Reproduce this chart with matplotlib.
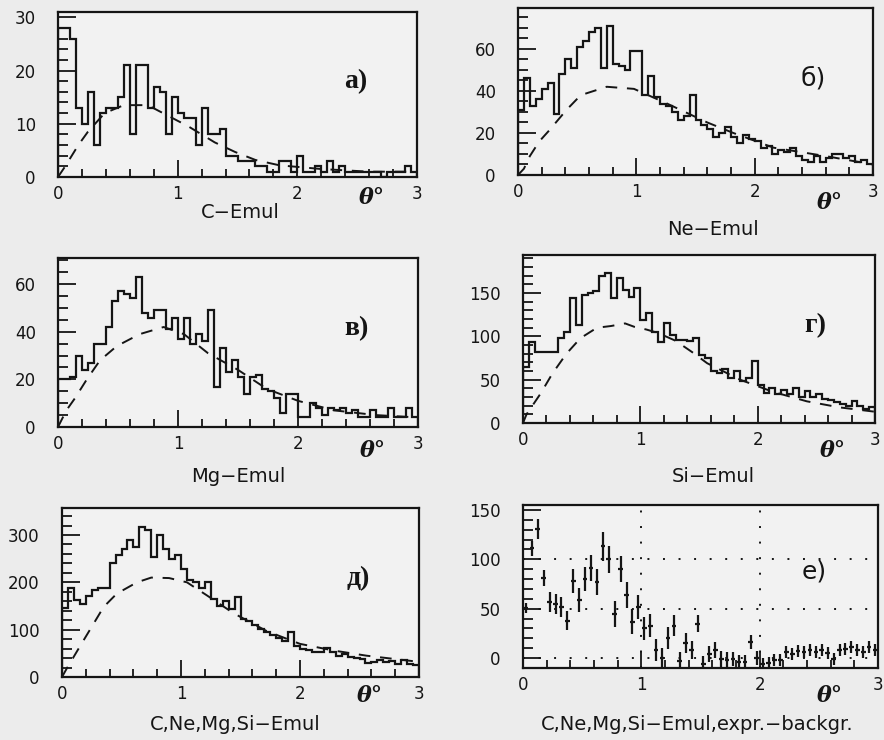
import numpy as np
import matplotlib
matplotlib.use("Agg")
import matplotlib.pyplot as plt
from matplotlib.ticker import MultipleLocator

W, H = 884, 740

# theta bins, 0.05 deg wide
theta_edges = np.linspace(0.0, 3.0, 61)

# a) C-Emul
c_counts = [28, 28, 26, 13, 10, 16, 6, 12, 13, 13,
            15, 21, 8, 21, 21, 13, 17, 16, 8, 15,
            12, 11, 11, 6, 13, 8, 8, 9, 4, 4,
            3, 3, 3, 2, 2, 1, 1, 3, 3, 1,
            4, 1, 1, 2, 1, 3, 1, 2, 1, 1,
            1, 1, 1, 1, 0, 1, 1, 1, 2, 1]
c_bg_x = [0, 0.06, 0.17, 0.25, 0.39, 0.55, 0.75, 0.92, 1.09, 1.31, 1.48, 1.65, 1.85, 2.2, 2.6, 3.0]
c_bg_y = [0, 2, 6, 8.5, 12, 13.5, 13.5, 11.5, 9.5, 6.5, 4.7, 3.2, 2.2, 1.5, 1.0, 1.0]

# б) Ne-Emul
ne_counts = [31, 46, 33, 36, 41, 44, 29, 48, 55, 51,
             61, 64, 68, 70, 51, 71, 53, 52, 50, 59,
             59, 38, 47, 37, 34, 33, 30, 26, 28, 38,
             26, 24, 22, 18, 20, 23, 18, 15, 19, 17,
             16, 13, 14, 10, 12, 11, 13, 9, 7, 6,
             9, 6, 8, 10, 10, 8, 9, 6, 7, 5]
ne_bg_x = [0, 0.05, 0.1, 0.18, 0.26, 0.41, 0.53, 0.75, 0.98, 1.26, 1.6, 1.82, 2.16, 2.6, 3.0]
ne_bg_y = [0, 3, 9, 16, 21, 31, 38, 42, 41, 34, 25, 20, 13, 9, 5]

# в) Mg-Emul
mg_counts = [20, 20, 21, 30, 24, 27, 35, 35, 42, 53,
             57, 56, 54, 63, 48, 46, 49, 49, 41, 46,
             37, 46, 35, 39, 36, 49, 17, 33, 23, 28,
             21, 14, 21, 22, 16, 15, 12, 6, 14, 14,
             4, 4, 10, 8, 5, 8, 7, 8, 6, 7,
             4, 4, 7, 4, 4, 8, 4, 4, 8, 4]
mg_bg_x = [0, 0.07, 0.14, 0.24, 0.35, 0.49, 0.68, 0.88, 1.05, 1.25, 1.5, 1.74, 2.0, 2.3, 2.65, 3.0]
mg_bg_y = [0, 7, 12, 20, 28, 34, 39, 42, 39, 31, 24, 16, 11, 7, 5, 4]

# г) Si-Emul
si_counts = [65, 93, 82, 82, 82, 82, 98, 105, 144, 113,
             148, 150, 152, 170, 173, 144, 168, 154, 145, 156,
             119, 127, 105, 93, 115, 102, 96, 96, 95, 98,
             78, 75, 60, 58, 62, 52, 60, 48, 52, 72,
             44, 35, 40, 33, 38, 33, 40, 30, 37, 30,
             34, 28, 26, 24, 22, 20, 25, 20, 16, 18]
si_bg_x = [0, 0.03, 0.15, 0.25, 0.37, 0.49, 0.63, 0.75, 0.87, 0.95, 1.05, 1.15, 1.3, 1.44,
           1.57, 1.85, 2.13, 2.42, 2.7, 3.0]
si_bg_y = [0, 10, 34, 57, 80, 98, 110, 112, 115, 111, 108, 104, 95, 82, 69, 50, 36, 25, 18, 13]

# д) C,Ne,Mg,Si-Emul
all_counts = [146, 187, 162, 155, 171, 183, 187, 187, 241, 257,
              271, 289, 275, 317, 310, 253, 301, 271, 250, 257,
              229, 204, 200, 187, 200, 165, 151, 160, 144, 169,
              123, 118, 110, 102, 96, 88, 82, 76, 95, 66,
              60, 58, 52, 52, 62, 52, 45, 48, 42, 40,
              38, 30, 32, 35, 32, 34, 28, 35, 28, 25]
all_bg_x = [0, 0.04, 0.13, 0.24, 0.35, 0.46, 0.63, 0.75, 0.9, 1.05, 1.22, 1.44, 1.72, 2.0,
            2.28, 2.56, 3.0]
all_bg_y = [0, 18, 56, 102, 148, 176, 200, 210, 209, 200, 172, 135, 97, 70, 56, 45, 32]

# е) expr. - backgr.
diff_y = [51, 111, 131, 81, 57, 55, 52, 38, 78, 59,
          80, 91, 77, 113, 100, 45, 90, 64, 37, 52,
          30, 33, 8, 0, 20, 33, -3, 15, 8, 35,
          -6, 4, 8, -1, -2, -1, -4, -4, 16, 0,
          -6, -5, -2, -2, 6, 4, 7, 6, 8, 6,
          8, 5, -1, 8, 9, 11, 8, 6, 11, 8]
diff_err = [5, 8, 10, 8, 10, 10, 10, 10, 12, 12,
            12, 13, 13, 15, 14, 13, 13, 13, 13, 12,
            12, 12, 11, 10, 11, 11, 9, 10, 9, 9,
            8, 8, 8, 8, 8, 7, 7, 7, 7, 7,
            6, 6, 6, 6, 6, 6, 6, 6, 6, 6,
            6, 6, 6, 6, 6, 6, 6, 6, 6, 6]

ink = "#151515"
paper = "#ececec"

fig = plt.figure(figsize=(W / 100, H / 100), dpi=100, facecolor=paper)


def px_rect(x0, x1, y0, y1):
    return [x0 / W, 1 - y1 / H, (x1 - x0) / W, (y1 - y0) / H]


def px_text(x, y, s, **kw):
    fig.text(x / W, 1 - y / H, s, ha="center", va="center", color=ink, **kw)


def style_axes(ax, ylim, major, minor):
    ax.set_facecolor("#f2f2f2")
    ax.set_xlim(0, 3)
    ax.set_ylim(*ylim)
    ax.xaxis.set_major_locator(MultipleLocator(1))
    ax.xaxis.set_minor_locator(MultipleLocator(0.2))
    ax.yaxis.set_major_locator(MultipleLocator(major))
    ax.yaxis.set_minor_locator(MultipleLocator(minor))
    ax.tick_params(which="both", direction="in", top=False, right=False,
                   color=ink, labelcolor=ink, labelsize=12, width=1.3)
    ax.tick_params(axis="x", which="major", length=12, pad=6)
    ax.tick_params(axis="x", which="minor", length=6)
    ax.tick_params(axis="y", which="major", length=13, pad=16)
    ax.tick_params(axis="y", which="minor", length=7)
    for s in ax.spines.values():
        s.set_linewidth(1.6)
        s.set_color(ink)


serif = dict(family="Liberation Serif", fontweight="bold", fontsize=20)
sans = dict(family="DejaVu Sans", fontsize=18)
caption = dict(fontsize=14, family="DejaVu Sans")
theta_lbl = dict(fontsize=16, family="DejaVu Serif", fontweight="bold", style="italic")

hist_panels = [
    # counts, bg x, bg y, frame px, ylim, major, minor, tag, tag style, caption, caption px, theta px
    (c_counts, c_bg_x, c_bg_y, (58, 417, 12, 177), (0, 31), 10, 2, "a)", serif,
     "C\u2212Emul", (240, 213), (372, 198)),
    (ne_counts, ne_bg_x, ne_bg_y, (518, 873, 8, 175), (0, 79.5), 20, 5, "б)", sans,
     "Ne\u2212Emul", (713, 230), (830, 203)),
    (mg_counts, mg_bg_x, mg_bg_y, (58, 418, 258, 427), (0, 71), 20, 5, "в)", serif,
     "Mg\u2212Emul", (238, 477), (373, 451)),
    (si_counts, si_bg_x, si_bg_y, (523, 875, 255, 423), (0, 194), 50, 10, "г)", serif,
     "Si\u2212Emul", (713, 477), (833, 451)),
    (all_counts, all_bg_x, all_bg_y, (62, 419, 508, 677), (0, 357), 100, 20, "д)", serif,
     "C,Ne,Mg,Si\u2212Emul", (235, 725), (370, 696)),
]

for counts, bx, by, frame, ylim, major, minor, tag, tag_style, cap, cap_xy, th_xy in hist_panels:
    ax = fig.add_axes(px_rect(*frame))
    ax.stairs(counts, theta_edges, color=ink, lw=1.6)
    ax.plot(bx, by, color=ink, lw=1.4, ls=(0, (6, 5)))
    style_axes(ax, ylim, major, minor)
    ax.text(0.83, 0.58, tag, transform=ax.transAxes, ha="center", va="center",
            color=ink, **tag_style)
    px_text(*cap_xy, cap, **caption)
    px_text(*th_xy, "\u03b8\u00b0", **theta_lbl)

# е) background-subtracted distribution with errors
ax = fig.add_axes(px_rect(523, 878, 505, 668))
centers = 0.5 * (theta_edges[:-1] + theta_edges[1:])
ax.errorbar(centers, diff_y, yerr=diff_err, xerr=0.02, fmt="none",
            ecolor=ink, elinewidth=1.6, capsize=0)
for yv in (0, 50, 100):
    ax.axhline(yv, color=ink, lw=1.4, ls=(0, (1, 7)))
for xv in (1, 2):
    ax.axvline(xv, color=ink, lw=1.4, ls=(0, (1, 7)))
style_axes(ax, (-10, 155), 50, 10)
ax.text(0.82, 0.59, "е)", transform=ax.transAxes, ha="center", va="center",
        color=ink, **sans)
px_text(697, 725, "C,Ne,Mg,Si\u2212Emul,expr.\u2212backgr.", **caption)
px_text(830, 696, "\u03b8\u00b0", **theta_lbl)

fig.savefig("out.png", dpi=100, facecolor=paper)
